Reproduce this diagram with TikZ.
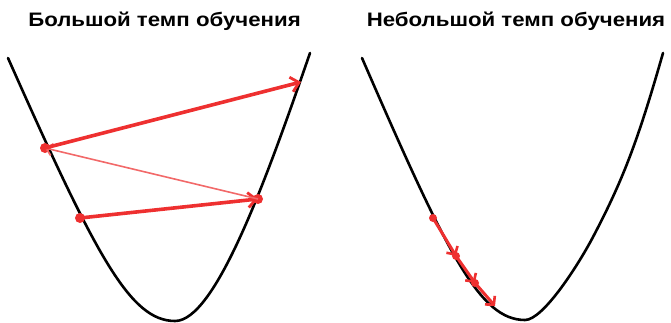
\documentclass[tikz,border=0pt]{standalone}
\usepackage{fontspec}
\setmainfont{Liberation Sans}
\usetikzlibrary{arrows.meta}
\definecolor{lrred}{RGB}{238,48,48}
\definecolor{lrpale}{RGB}{242,105,105}
\tikzset{
  curve/.style={line width=2.6pt, black, line join=round, line cap=round},
  jump/.style={line width=3.6pt, lrred, -{Straight Barb[length=8pt, width=15pt, line width=2.8pt]}},
  back/.style={line width=1.6pt, lrpale, -{Straight Barb[length=6pt, width=12pt, line width=1.8pt]}},
  creep/.style={line width=3pt, lrred, -{Straight Barb[length=6pt, width=13pt, line width=2.6pt]}},
  dot/.style={circle, fill=lrred, inner sep=0pt, minimum size=10pt},
  title/.style={font=\bfseries\fontsize{19.5}{22}\selectfont, anchor=base}
}

\begin{document}
\begin{tikzpicture}[x=1pt, y=-1pt]
\useasboundingbox (0,0) rectangle (671,323);

% titles
\node[title] (tbig) at (164.5,27) {\scalebox{1.14}[1]{Большой темп обучения}};
\node[title] (tsmall) at (516,27) {\scalebox{1.14}[1]{Небольшой темп обучения}};

% left: large step
\draw[curve] (8,58) .. controls (96,256) and (130,321) .. (175,321)
  .. controls (215,321) and (265,183.5) .. (310,53);

\node[dot] (a1) at (80,218) {};
\node[dot] (a2) at (258,199) {};
\node[dot] (a3) at (45,148) {};
\coordinate (a4) at (301,82);

\draw[jump] (a1.center) -- (a2.center);
\draw[back] (a2.center) -- (a3.center);
\draw[jump] (a3.center) -- (a4);

% right: small step
\draw[curve] (362,58) .. controls (448,256) and (480,320) .. (525,320)
  .. controls (543,320) and (578,265.5) .. (593,237)
  .. controls (623,180) and (638,140.5) .. (663,53);

\node[dot, minimum size=8pt] (b1) at (433,218) {};
\node[dot, minimum size=8pt] (b2) at (456,256) {};
\node[dot, minimum size=8pt] (b3) at (475,283) {};
\coordinate (b4) at (495,306);

\draw[creep] (b1.center) -- (b2.center);
\draw[creep] (b2.center) -- (b3.center);
\draw[creep] (b3.center) -- (b4);
\end{tikzpicture}
\end{document}
